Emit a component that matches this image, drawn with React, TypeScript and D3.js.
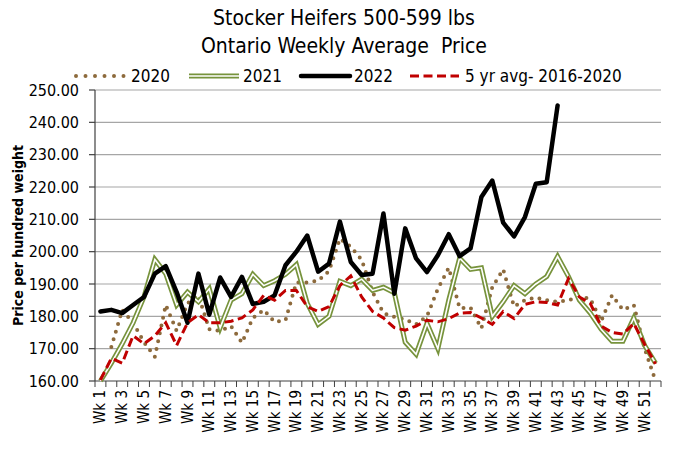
import React from 'react';
import * as d3 from 'd3';

const weeks = Array.from({ length: 52 }, (_, i) => `Wk ${i + 1}`);

const y2020 = [null, 170.5, 182, 178, 172, 167.5, 183.5, 175.5, 184, 186.5, 176, 175.5, 177, 171.8, 179.5, 182, 178.3, 178.8, 190.5, 190.5, 191, 194, 204, 201.5, 197.5, 187.5, 181, 179.8, 179, 177.5, 180, 188.5, 195, 182.5, 182.7, 176.3, 189, 194.5, 183, 185, 185.8, 185, 184.5, 185, 186, 185.5, 178.5, 186.5, 182, 183.5, 170, 160];

const y2021 = [160, 165.5, 171.5, 178, 186, 197.6, 193.2, 183.5, 187.5, 184.5, 188.5, 176.5, 185, 187, 193, 189.5, 191, 193, 196, 184, 177.5, 180, 190.8, 189.5, 191.5, 188, 189, 187.3, 172, 168.3, 177.8, 170, 185, 198, 194.5, 195, 180, 184.5, 189.5, 187, 190, 192.3, 198.5, 192.3, 185, 181, 176, 172.3, 172.3, 179.5, 171, 165.5];

const y2022 = [181.5, 182, 181, 183.5, 186, 193.2, 195.5, 187.5, 178, 193.2, 180.5, 192, 186, 192.2, 183.8, 184.5, 186.5, 195.8, 200, 205, 193.8, 196.3, 209.3, 196.8, 192.8, 193.2, 211.8, 187, 207.2, 197.9, 193.7, 198.9, 205.4, 198.6, 201, 216.9, 222, 209, 204.7, 210.7, 221, 221.5, 245.2];

const avg5 = [160.3, 167, 165.5, 174, 171.5, 174, 178, 171, 178, 180.5, 178, 178, 178.5, 179.5, 182, 186.5, 185, 188, 188, 183, 181.5, 183, 189.5, 192.5, 186, 181.5, 179.5, 176.5, 175.7, 177, 178.8, 178.3, 179.3, 181, 181.2, 179.5, 177.5, 181.5, 179.3, 183.7, 184.5, 184.3, 183.5, 191.7, 186, 184, 177, 175, 174.5, 177.8, 171.3, 165.3];

const yTicks = [160, 170, 180, 190, 200, 210, 220, 230, 240, 250];

const FONT = "'Liberation Sans Narrow', 'DejaVu Sans Condensed', 'Open Sans', sans-serif";
const BROWN = '#8d6a3c';
const GREEN = '#77933c';
const RED = '#c00000';

const App = () => {
    const W = 686, H = 454;
    const left = 95, right = 661, top = 90, bottom = 381;

    const x = d3.scaleBand<string>().domain(weeks).range([left, right]);
    const y = d3.scaleLinear().domain([160, 250]).range([bottom, top]);
    const cx = (i: number) => (x(weeks[i]) as number) + x.bandwidth() / 2;

    const line = d3.line<number | null>()
        .defined(d => d != null)
        .x((_, i) => cx(i))
        .y(d => y(d as number));

    const legendY = 76;

    return (
        <svg width={W} height={H} style={{ position: 'absolute', left: 0, top: 0, background: '#fff' }} fontFamily={FONT}>
            {/* title */}
            <text x={344} y={25} textAnchor="middle" fontSize={21}>Stocker Heifers 500-599 lbs</text>
            <text x={344} y={53} textAnchor="middle" fontSize={21} style={{ whiteSpace: 'pre' }}>Ontario Weekly Average  Price</text>

            {/* legend */}
            <g fontSize={17}>
                <line x1={76} x2={126} y1={legendY} y2={legendY} stroke={BROWN} strokeWidth={4} strokeLinecap="round" strokeDasharray="0 9.5" />
                <text x={131} y={legendY} dominantBaseline="central">2020</text>
                <line x1={189} x2={239} y1={legendY} y2={legendY} stroke={GREEN} strokeWidth={5} />
                <line x1={189} x2={239} y1={legendY} y2={legendY} stroke="#fff" strokeWidth={1.6} />
                <text x={243} y={legendY} dominantBaseline="central">2021</text>
                <line x1={301} x2={350} y1={legendY} y2={legendY} stroke="#000" strokeWidth={4.5} strokeLinecap="round" />
                <text x={354} y={legendY} dominantBaseline="central">2022</text>
                <line x1={410} x2={459} y1={legendY} y2={legendY} stroke={RED} strokeWidth={3} strokeDasharray="9 4.5" />
                <text x={465} y={legendY} dominantBaseline="central">5 yr avg- 2016-2020</text>
            </g>

            {/* gridlines */}
            {yTicks.slice(1).map(t => (
                <line key={t} x1={left} x2={right} y1={y(t)} y2={y(t)} stroke="#a6a6a6" strokeWidth={1.2} />
            ))}

            {/* y axis */}
            <line x1={left} x2={left} y1={top} y2={bottom} stroke="#404040" strokeWidth={1.2} />
            {yTicks.map(t => (
                <g key={t}>
                    <line x1={left - 6} x2={left} y1={y(t)} y2={y(t)} stroke="#404040" strokeWidth={1.2} />
                    <text x={79} y={y(t)} textAnchor="end" dominantBaseline="central" fontSize={16}>{t.toFixed(2)}</text>
                </g>
            ))}
            <text transform={`translate(18,${(top + bottom) / 2}) rotate(-90)`} textAnchor="middle" dominantBaseline="central" fontSize={14} fontWeight="bold">Price per hundred weight</text>

            {/* x axis */}
            <line x1={left} x2={right} y1={bottom} y2={bottom} stroke="#404040" strokeWidth={1.2} />
            {weeks.concat(['']).map((w, i) => {
                const xx = left + i * x.step();
                return <line key={i} x1={xx} x2={xx} y1={bottom} y2={bottom + 6} stroke="#404040" strokeWidth={1} />;
            })}
            {weeks.map((w, i) => i % 2 === 0 && (
                <text key={w} transform={`translate(${cx(i)},${bottom + 9}) rotate(-90)`} textAnchor="end" dominantBaseline="central" fontSize={15}>{w}</text>
            ))}

            {/* series */}
            <path d={line(y2020) || ''} fill="none" stroke={BROWN} strokeWidth={4} strokeLinecap="round" strokeDasharray="0 8" />
            <path d={line(y2021) || ''} fill="none" stroke={GREEN} strokeWidth={5} strokeLinejoin="miter" />
            <path d={line(y2021) || ''} fill="none" stroke="#fff" strokeWidth={1.6} />
            <path d={line(y2022) || ''} fill="none" stroke="#000" strokeWidth={4.5} strokeLinejoin="round" strokeLinecap="round" />
            <path d={line(avg5) || ''} fill="none" stroke={RED} strokeWidth={3} strokeDasharray="9 4.5" />
        </svg>
    );
};

export default App;
